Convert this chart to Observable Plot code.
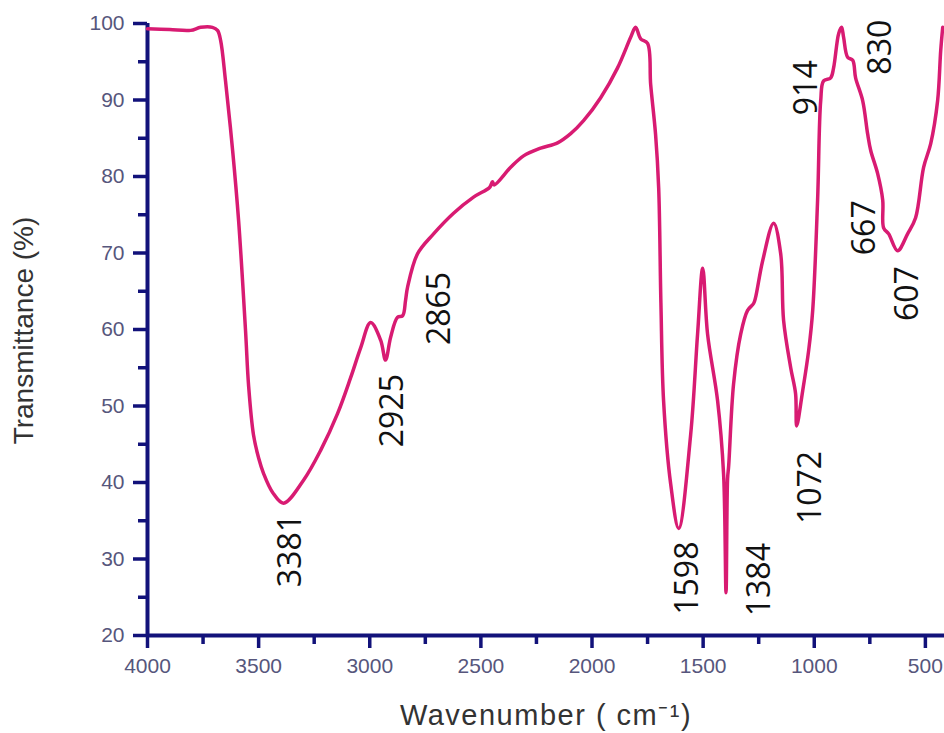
<!DOCTYPE html>
<html><head><meta charset="utf-8">
<script src="https://cdn.jsdelivr.net/npm/d3@7"></script>
<script src="https://cdn.jsdelivr.net/npm/@observablehq/plot@0.6"></script>
<style>body{margin:0;background:#fff} svg{display:block} .xtitle text{letter-spacing:1.5px}</style>
</head><body><div id="chart"></div>
<script>
const wavenumber = [4000,3900,3806,3761,3708,3685,3671,3649,3617,3590,3559,3545,3523,3500,3478,3437,3388,3298,3221,3145,3086,3041,2996,2951,2929,2906,2875,2852,2839,2830,2785,2713,2623,2533,2460,2448,2440,2366,2308,2231,2155,2096,2038,1961,1885,1826,1804,1781,1750,1736,1714,1700,1690,1678,1646,1610,1556,1525,1502,1480,1435,1408,1397,1390,1385,1363,1331,1300,1273,1264,1232,1183,1151,1138,1106,1084,1079,1052,1025,1007,985,971,958,926,913,890,877,868,850,827,814,782,760,746,715,692,688,665,625,580,544,508,476,445,431,422];
const transmittance = [99.3,99.2,99.1,99.5,99.5,99.1,97.8,92.5,83.4,74.2,59.9,52.6,46.2,43.2,41.2,38.7,37.3,40.3,44.2,49.0,53.7,57.6,60.9,58.6,56.0,59.0,61.6,61.8,63.8,65.5,69.9,72.5,75.2,77.3,78.6,79.3,78.9,81.2,82.7,83.7,84.4,85.6,87.3,90.3,94.2,98.2,99.5,98.0,97.4,92.0,85.5,78.5,63.5,50.7,39.8,34.0,46.3,59.4,68.0,59.4,50.7,41.1,25.6,40.5,42.2,52.9,59.4,62.5,63.4,64.2,69.0,73.9,69.9,61.2,55.0,51.6,47.4,52.0,57.3,62.5,76.9,89.9,92.5,92.9,94.2,98.7,99.5,98.2,95.6,95.2,92.9,89.9,85.6,83.4,80.4,76.9,73.3,72.5,70.3,72.5,74.6,81.2,84.3,89.9,96.5,99.5];

const peakLabels = ["3381","2925","2865","1598","1384","1072","914","830","667","607"];
const peakLabelWavenumber = [3356,2897,2686,1570,1246,1016,1034,701,773,580];
const peakLabelTransmittance = [31.1,49.4,62.75,27.5,27.3,39.35,91.6,96.9,73.3,64.7];

const xMajorTicks = [4000,3500,3000,2500,2000,1500,1000,500];
const xMinorTicks = [3750,3250,2750,2250,1750,1250,750];
const yMajorTicks = [20,30,40,50,60,70,80,90,100];
const yMinorTicks = [25,35,45,55,65,75,85,95];

const spectrum = wavenumber.map((w, i) => ({w, t: transmittance[i]}));
const labels = peakLabels.map((s, i) => ({s, w: peakLabelWavenumber[i], t: peakLabelTransmittance[i]}));

const navy = "#12127a", tickText = "#56567c", pink = "#d81b72";

const chart = Plot.plot({
  width: 944, height: 733,
  marginLeft: 147, marginRight: 0, marginTop: 23, marginBottom: 98,
  x: {domain: [4000, 414], label: null},
  y: {domain: [20, 100], label: null},
  style: {background: "#fff", overflow: "visible"},
  marks: [
    Plot.axisY(yMinorTicks, {tickSize: 9, tickFormat: () => "", stroke: navy, strokeWidth: 3.5, label: null}),
    Plot.axisY(yMajorTicks, {tickSize: 14, tickPadding: 9, stroke: navy, strokeWidth: 3.5, color: tickText, fill: tickText, fontSize: 21, fontFamily: "Liberation Sans", label: null}),
    Plot.axisX(xMinorTicks, {tickSize: 9, tickFormat: () => "", stroke: navy, strokeWidth: 3.5, label: null}),
    Plot.axisX(xMajorTicks, {tickSize: 13, tickPadding: 10, stroke: navy, strokeWidth: 3.5, color: tickText, fill: tickText, fontSize: 21, fontFamily: "Liberation Sans", tickFormat: d => String(d), label: null}),
    Plot.ruleX([4000], {y1: 20, y2: 100, stroke: navy, strokeWidth: 4}),
    Plot.ruleY([20], {x1: 4000, x2: 414, stroke: navy, strokeWidth: 4}),
    Plot.line(spectrum, {x: "w", y: "t", stroke: pink, strokeWidth: 3.5, curve: "catmull-rom", strokeLinejoin: "round"}),
    Plot.text(labels, {x: "w", y: "t", text: "s", rotate: -90, fontSize: 32, fontFamily: "Open Sans", fill: "#111", textAnchor: "middle", lineAnchor: "middle"}),
    Plot.text(["Transmittance (%)"], {frameAnchor: "left", dx: -123, dy: 1, rotate: -90, fontSize: 28, fontFamily: "Liberation Sans", fill: "#333", textAnchor: "middle", lineAnchor: "middle"}),
    Plot.text(["Wavenumber ( cm⁻¹)"], {frameAnchor: "bottom", dy: 80, fontSize: 29, fontFamily: "Liberation Sans", fill: "#333", textAnchor: "middle", lineAnchor: "middle", className: "xtitle"})
  ]
});
document.getElementById("chart").appendChild(chart);
</script>
</body></html>
